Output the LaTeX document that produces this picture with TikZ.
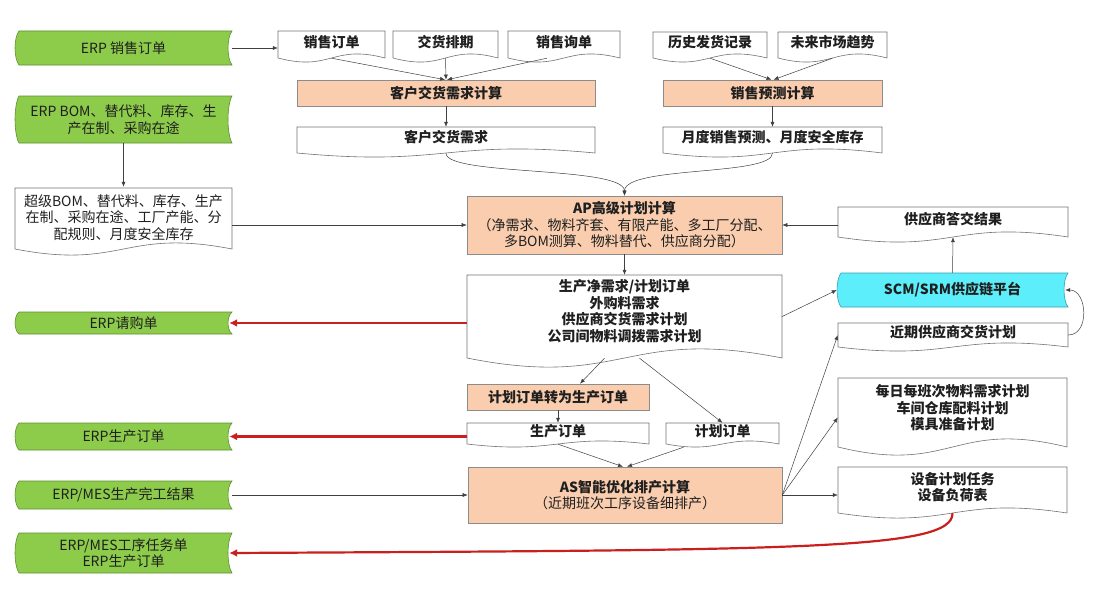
\documentclass[tikz,border=0pt]{standalone}
\usepackage{fontspec}
\setmainfont{Noto Sans CJK SC}
\usetikzlibrary{arrows.meta,calc}
\definecolor{gfill}{HTML}{8DCB4B}
\definecolor{gdraw}{HTML}{5E8F32}
\definecolor{ofill}{HTML}{F9CDAE}
\definecolor{cfill}{HTML}{5CEEFA}
\definecolor{cdraw}{HTML}{3A9DB0}
\definecolor{redarr}{HTML}{C8201F}
\definecolor{lnk}{HTML}{404040}
\newcommand\docnode[7]{%
  \draw[docline] (#2,#3) -- (#4,#3) -- (#4,#5)
    .. controls ({(#2+#4)/2},{#5-3.5*#6}) and ({(#2+#4)/2},{#5+3.5*#6}) .. (#2,#5) -- cycle;
  \node[inner sep=0pt, minimum width={(#4-#2)*1pt}, minimum height={(#5-#3)*1pt},
    label={[btxt, yshift={0.6*#6*1pt}]center:{#7}}] (#1) at ({(#2+#4)/2},{(#3+#5)/2}) {};
}
\newcommand\storenode[7]{%
  \draw[#6] ({#2+4},#3) -- (#4,#3)
    .. controls ({#4-5.3},{#3+0.2*(#5-#3)}) and ({#4-5.3},{#5-0.2*(#5-#3)}) .. (#4,#5)
    -- ({#2+4},#5)
    .. controls ({#2-1.3},{#5-0.2*(#5-#3)}) and ({#2-1.3},{#3+0.2*(#5-#3)}) .. ({#2+4},#3) -- cycle;
  \node[txt, minimum width={(#4-#2)*1pt}, minimum height={(#5-#3)*1pt}] (#1) at ({(#2+#4)/2},{(#3+#5)/2}) {#7};
}
\newcommand\orangenode[6]{%
  \node[obox, btxt, minimum width={(#4-#2)*1pt}, minimum height={(#5-#3)*1pt}] (#1) at ({(#2+#4)/2},{(#3+#5)/2}) {#6};
}
\begin{document}
\begin{tikzpicture}[x=1pt,y=-1pt,
  txt/.style={inner sep=0pt, align=center, text=black!88, font=\fontsize{14}{16.5}\selectfont},
  btxt/.style={txt, font=\fontsize{14}{16.5}\selectfont\bfseries},
  docline/.style={draw=black!55, fill=white, line width=0.6pt},
  obox/.style={draw=black!45, fill=ofill, line width=0.6pt},
  gstore/.style={draw=gdraw, fill=gfill, line width=0.6pt},
  cstore/.style={draw=cdraw, fill=cfill, line width=0.6pt},
  conn/.style={draw=lnk, line width=0.5pt, -{Latex[length=5pt,width=4pt]}},
  rconn/.style={draw=redarr, line width=2.2pt, -{Latex[length=8pt,width=8pt]}},
]
\fill[white] (0,0) rectangle (1094,594);
\useasboundingbox (0,0) rectangle (1094,594);

% green stored-data shapes
\storenode{g1}{15}{31}{232}{65}{gstore}{ERP 销售订单}
\storenode{g2}{15}{96}{232}{143}{gstore}{ERP BOM、替代料、库存、生\\产在制、采购在途}
\storenode{g3}{15}{312}{232}{334}{gstore}{ERP请购单}
\storenode{g4}{15}{423}{232}{450}{gstore}{ERP生产订单}
\storenode{g5}{15}{481}{232}{509}{gstore}{ERP/MES生产完工结果}
\storenode{g6}{15}{533}{232}{573}{gstore}{ERP/MES工序任务单\\ERP生产订单}

% documents
\docnode{so}{278}{31}{385}{58}{4}{销售订单}
\docnode{jp}{393}{31}{498}{58}{4}{交货排期}
\docnode{xd}{508}{31}{620}{58}{4}{销售询单}
\docnode{ls}{653}{32}{767}{58}{4}{历史发货记录}
\docnode{wl}{778}{32}{887}{58}{4}{未来市场趋势}
\docnode{khx}{297}{127}{595}{153}{4}{客户交货需求}
\docnode{ydx}{663}{127}{882}{153}{4}{月度销售预测、月度安全库存}
\draw[docline] (15,188) -- (232,188) -- (232,249)
  .. controls (123.5,228) and (123.5,270) .. (15,249) -- cycle;
\node[txt, minimum width=217pt, minimum height=61pt] (cj) at (123.5,217.5)
  {超级BOM、替代料、库存、生产\\在制、采购在途、工厂产能、分\\配规则、月度安全库存};
\docnode{net}{467}{275}{782}{358}{9}{生产净需求/计划订单\\外购料需求\\供应商交货需求计划\\公司间物料调拨需求计划}
\docnode{gdj}{838}{207}{1068}{237}{5}{供应商答交结果}
\docnode{jq}{838}{323}{1068}{347}{4}{近期供应商交货计划}
\docnode{mr}{838}{378}{1067}{447}{8}{每日每班次物料需求计划\\车间仓库配料计划\\模具准备计划}
\docnode{sb}{838}{467}{1067}{513}{5}{设备计划任务\\设备负荷表}
\docnode{scdd}{467}{423}{649}{444}{3}{生产订单}
\docnode{jhdd}{666}{423}{779}{444}{3}{计划订单}

% cyan platform
\storenode{scm}{837}{273}{1068}{307}{cstore}{\bfseries SCM/SRM供应链平台}

% orange process boxes
\orangenode{khc}{297}{80}{595}{106}{客户交货需求计算}
\orangenode{xyc}{663}{80}{882}{106}{销售预测计算}
\orangenode{ap}{467}{196}{782}{254}{AP高级计划计算\\{\mdseries （净需求、物料齐套、有限产能、多工厂分配、}\\{\mdseries 多BOM测算、物料替代、供应商分配）}}
\orangenode{jz}{467}{384}{649}{410}{计划订单转为生产订单}
\orangenode{as}{468}{467}{782}{523}{AS智能优化排产计算\\{\mdseries （近期班次工序设备细排产）}}

% connectors
\draw[conn] (g1.east) -- (g1.east -| so.west);
\draw[conn] (g2.south) -- (cj.north);
\draw[conn] (so.south) -- ($(khc.north)+(-1,0)$);
\draw[conn] (jp.south) -- (khc.north);
\draw[conn] ($(xd.south)+(-17,0)$) -- ($(khc.north)+(1,0)$);
\draw[conn] (khc.south) -- (khx.north);
\draw[conn] (ls.south) -- ($(xyc.north)+(-1,0)$);
\draw[conn] (wl.south) -- ($(xyc.north)+(1,0)$);
\draw[conn] (xyc.south) -- (ydx.north);
\draw[conn] (khx.south) .. controls +(0,23) and +(0,-30) .. (ap.north);
\draw[conn] (ydx.south) .. controls +(0,23) and +(0,-30) .. (ap.north);
\draw[conn] (ap.west -| cj.east) -- (ap.west);
\draw[conn] (ap.east -| gdj.west) -- (ap.east);
\draw[conn] (ap.south) -- (net.north);
\draw[conn] (net.east) -- (scm.west);
\draw[conn] (scm.north) -- (gdj.south);
\draw[conn] (jq.east) .. controls +(22,0) and +(22,0) .. ($(scm.east)+(-3,0)$);
\draw[conn] ($(net.south)+(-20,0)$) -- ($(jz.north)+(22,0)$);
\draw[conn] ($(net.south)+(15,0)$) -- (jhdd.north);
\draw[conn] (jz.south) -- (scdd.north);
\draw[conn] (scdd.south) -- ($(as.north)+(-2,0)$);
\draw[conn] ($(jhdd.south)+(-39,3)$) -- ($(as.north)+(2,0)$);
\draw[conn] (g5.east) -- (g5.east -| as.west);
\draw[conn] (as.east) -- (jq.west);
\draw[conn] (as.east) -- ($(mr.west)+(0,5)$);
\draw[conn] (as.east) -- (as.east -| sb.west);

% red feedback arrows
\draw[rconn] (g3.east -| net.west) -- ($(g3.east)+(-3,0)$);
\draw[rconn] (g4.east -| scdd.west) -- ($(g4.east)+(-3,0)$);
\draw[rconn] (sb.south) .. controls (953,550) and (800,550) .. ($(g6.east)+(-3,0)$);
\end{tikzpicture}
\end{document}
